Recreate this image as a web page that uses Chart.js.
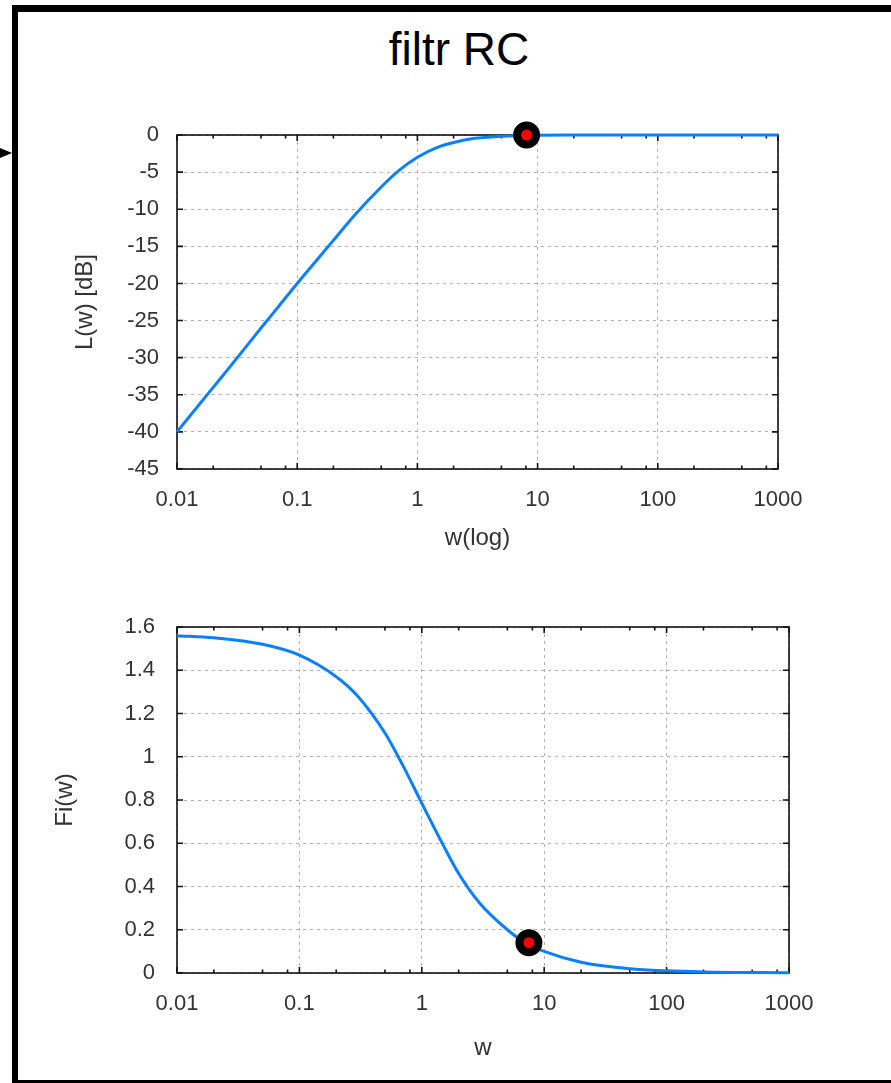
<!DOCTYPE html>
<html>
<head>
<meta charset="utf-8">
<script src="https://cdn.jsdelivr.net/npm/chart.js@4/dist/chart.umd.min.js"></script>
<style>
  html, body { margin: 0; padding: 0; background: #fff; overflow: hidden; }
  body { width: 891px; height: 1083px; position: relative; font-family: "Liberation Sans", Arial, sans-serif; }
  #frame { position: absolute; left: 12px; top: 5px; width: 920px; height: 1081px; box-sizing: border-box; border: 6px solid #000; border-top-width: 7px; }
  #arrow { position: absolute; left: 0; top: 148px; width: 0; height: 0; border-top: 5px solid transparent; border-bottom: 5px solid transparent; border-left: 12px solid #000; }
  #title { position: absolute; left: 0; top: 26px; width: 918px; text-align: center; font-size: 46px; line-height: 46px; color: #000; }
  canvas { position: absolute; left: 20px; }
  #top { top: 100px; }
  #bottom { top: 590px; }
</style>
</head>
<body>
<div id="frame"></div>
<div id="arrow"></div>
<div id="title">filtr RC</div>
<canvas id="top" width="850" height="470"></canvas>
<canvas id="bottom" width="850" height="484"></canvas>
<script>
// amplitude response
const wL = [0.01, 0.02, 0.03, 0.05, 0.07, 0.1, 0.15, 0.2, 0.3, 0.5, 0.7, 1, 1.5, 2, 3, 5, 7, 10, 20, 50, 100, 1000];
const lDb = [-40, -34, -30.5, -26, -23.1, -20, -16.6, -14.2, -10.8, -7, -4.8, -3, -1.6, -1, -0.45, -0.17, -0.09, -0.04, -0.01, 0, 0, 0];

// phase response
const wFi = [0.01, 0.02, 0.05, 0.1, 0.2, 0.3, 0.5, 0.7, 1, 1.5, 2, 3, 5, 7, 10, 20, 50, 100, 200, 1000];
const fi = [1.56, 1.55, 1.52, 1.47, 1.37, 1.28, 1.11, 0.96, 0.785, 0.59, 0.46, 0.32, 0.2, 0.14, 0.1, 0.05, 0.02, 0.01, 0.005, 0.001];

// highlighted points
const markL = { w: 8.1, v: 0 };
const markFi = { w: 7.5, v: 0.14 };

// axis ticks
const wTicks = [0.01, 0.1, 1, 10, 100, 1000];
const wMinor = [2, 5, 8];
const lTicks = [-45, -40, -35, -30, -25, -20, -15, -10, -5, 0];
const fiTicks = [0, 0.2, 0.4, 0.6, 0.8, 1, 1.2, 1.4, 1.6];

const curveColor = '#0a80ff';
const textColor = '#333';
const font = 'Liberation Sans, Arial, sans-serif';

// box round the plot, with short inward ticks on every side
const boxPlugin = {
  id: 'box',
  beforeDatasetsDraw(chart) {
    const { ctx, chartArea: a, scales: { x, y } } = chart;
    ctx.save();
    ctx.strokeStyle = '#111';
    ctx.lineWidth = 1.6;
    ctx.strokeRect(a.left, a.top, a.right - a.left, a.bottom - a.top);
    ctx.beginPath();
    x.ticks.forEach((t, i) => {
      const px = x.getPixelForValue(t.value);
      ctx.moveTo(px, a.bottom); ctx.lineTo(px, a.bottom - 6);
      ctx.moveTo(px, a.top); ctx.lineTo(px, a.top + 6);
      if (i < x.ticks.length - 1) {
        wMinor.forEach(m => {
          const mx = x.getPixelForValue(t.value * m);
          ctx.moveTo(mx, a.bottom); ctx.lineTo(mx, a.bottom - 3.5);
          ctx.moveTo(mx, a.top); ctx.lineTo(mx, a.top + 3.5);
        });
      }
    });
    y.ticks.forEach(t => {
      const py = y.getPixelForValue(t.value);
      ctx.moveTo(a.left, py); ctx.lineTo(a.left + 6, py);
      ctx.moveTo(a.right, py); ctx.lineTo(a.right - 6, py);
    });
    ctx.stroke();
    ctx.restore();
  }
};

function makeChart(id, ws, vals, mark, yTicks, yTitle, xTitle, opts) {
  return new Chart(document.getElementById(id), {
    type: 'line',
    data: {
      datasets: [
        {
          data: [{ x: mark.w, y: mark.v }],
          showLine: false,
          pointRadius: 9.5,
          pointBorderWidth: 8,
          pointBorderColor: '#000',
          pointBackgroundColor: '#ff0000',
          clip: false,
          order: 0
        },
        {
          data: ws.map((w, i) => ({ x: w, y: vals[i] })),
          borderColor: curveColor,
          borderWidth: 3,
          pointRadius: 0,
          cubicInterpolationMode: 'monotone',
          clip: false,
          order: 1
        }
      ]
    },
    options: {
      responsive: false,
      animation: false,
      layout: { padding: { top: opts.top, right: opts.right, left: 0, bottom: 0 } },
      plugins: { legend: { display: false }, tooltip: { enabled: false } },
      scales: {
        x: {
          type: 'logarithmic',
          min: 0.01,
          max: 1000,
          afterBuildTicks: s => { s.ticks = wTicks.map(v => ({ value: v })); },
          afterFit: s => { s.height = 101; },
          ticks: {
            autoSkip: false, maxRotation: 0, padding: 18,
            color: textColor, font: { family: font, size: 22 },
            callback: v => String(v)
          },
          grid: { color: '#b0b0b0', lineWidth: 1, drawTicks: false },
          border: { display: false, dash: [3, 4] },
          title: {
            display: true, text: xTitle, color: textColor,
            font: { family: font, size: 24 }, padding: { top: 0, bottom: opts.xTitlePad }
          }
        },
        y: {
          min: yTicks[0],
          max: yTicks[yTicks.length - 1],
          afterBuildTicks: s => { s.ticks = yTicks.map(v => ({ value: v })); },
          afterFit: s => { s.width = 157; },
          ticks: {
            padding: opts.yPad,
            color: textColor, font: { family: font, size: 22 },
            callback: v => String(v)
          },
          grid: { color: '#b0b0b0', lineWidth: 1, drawTicks: false },
          border: { display: false, dash: [3, 4] },
          title: {
            display: true, text: yTitle, color: textColor,
            font: { family: font, size: 24 }, padding: { top: opts.yTitlePad, bottom: 0 }
          }
        }
      }
    },
    plugins: [boxPlugin]
  });
}

makeChart('top', wL, lDb, markL, lTicks, 'L(w) [dB]', 'w(log)',
  { top: 35, right: 92, yPad: 18, yTitlePad: 51, xTitlePad: 17 });
makeChart('bottom', wFi, fi, markFi, fiTicks, 'Fi(w)', 'w',
  { top: 37, right: 81, yPad: 22, yTitlePad: 31, xTitlePad: 11 });
</script>
</body>
</html>
